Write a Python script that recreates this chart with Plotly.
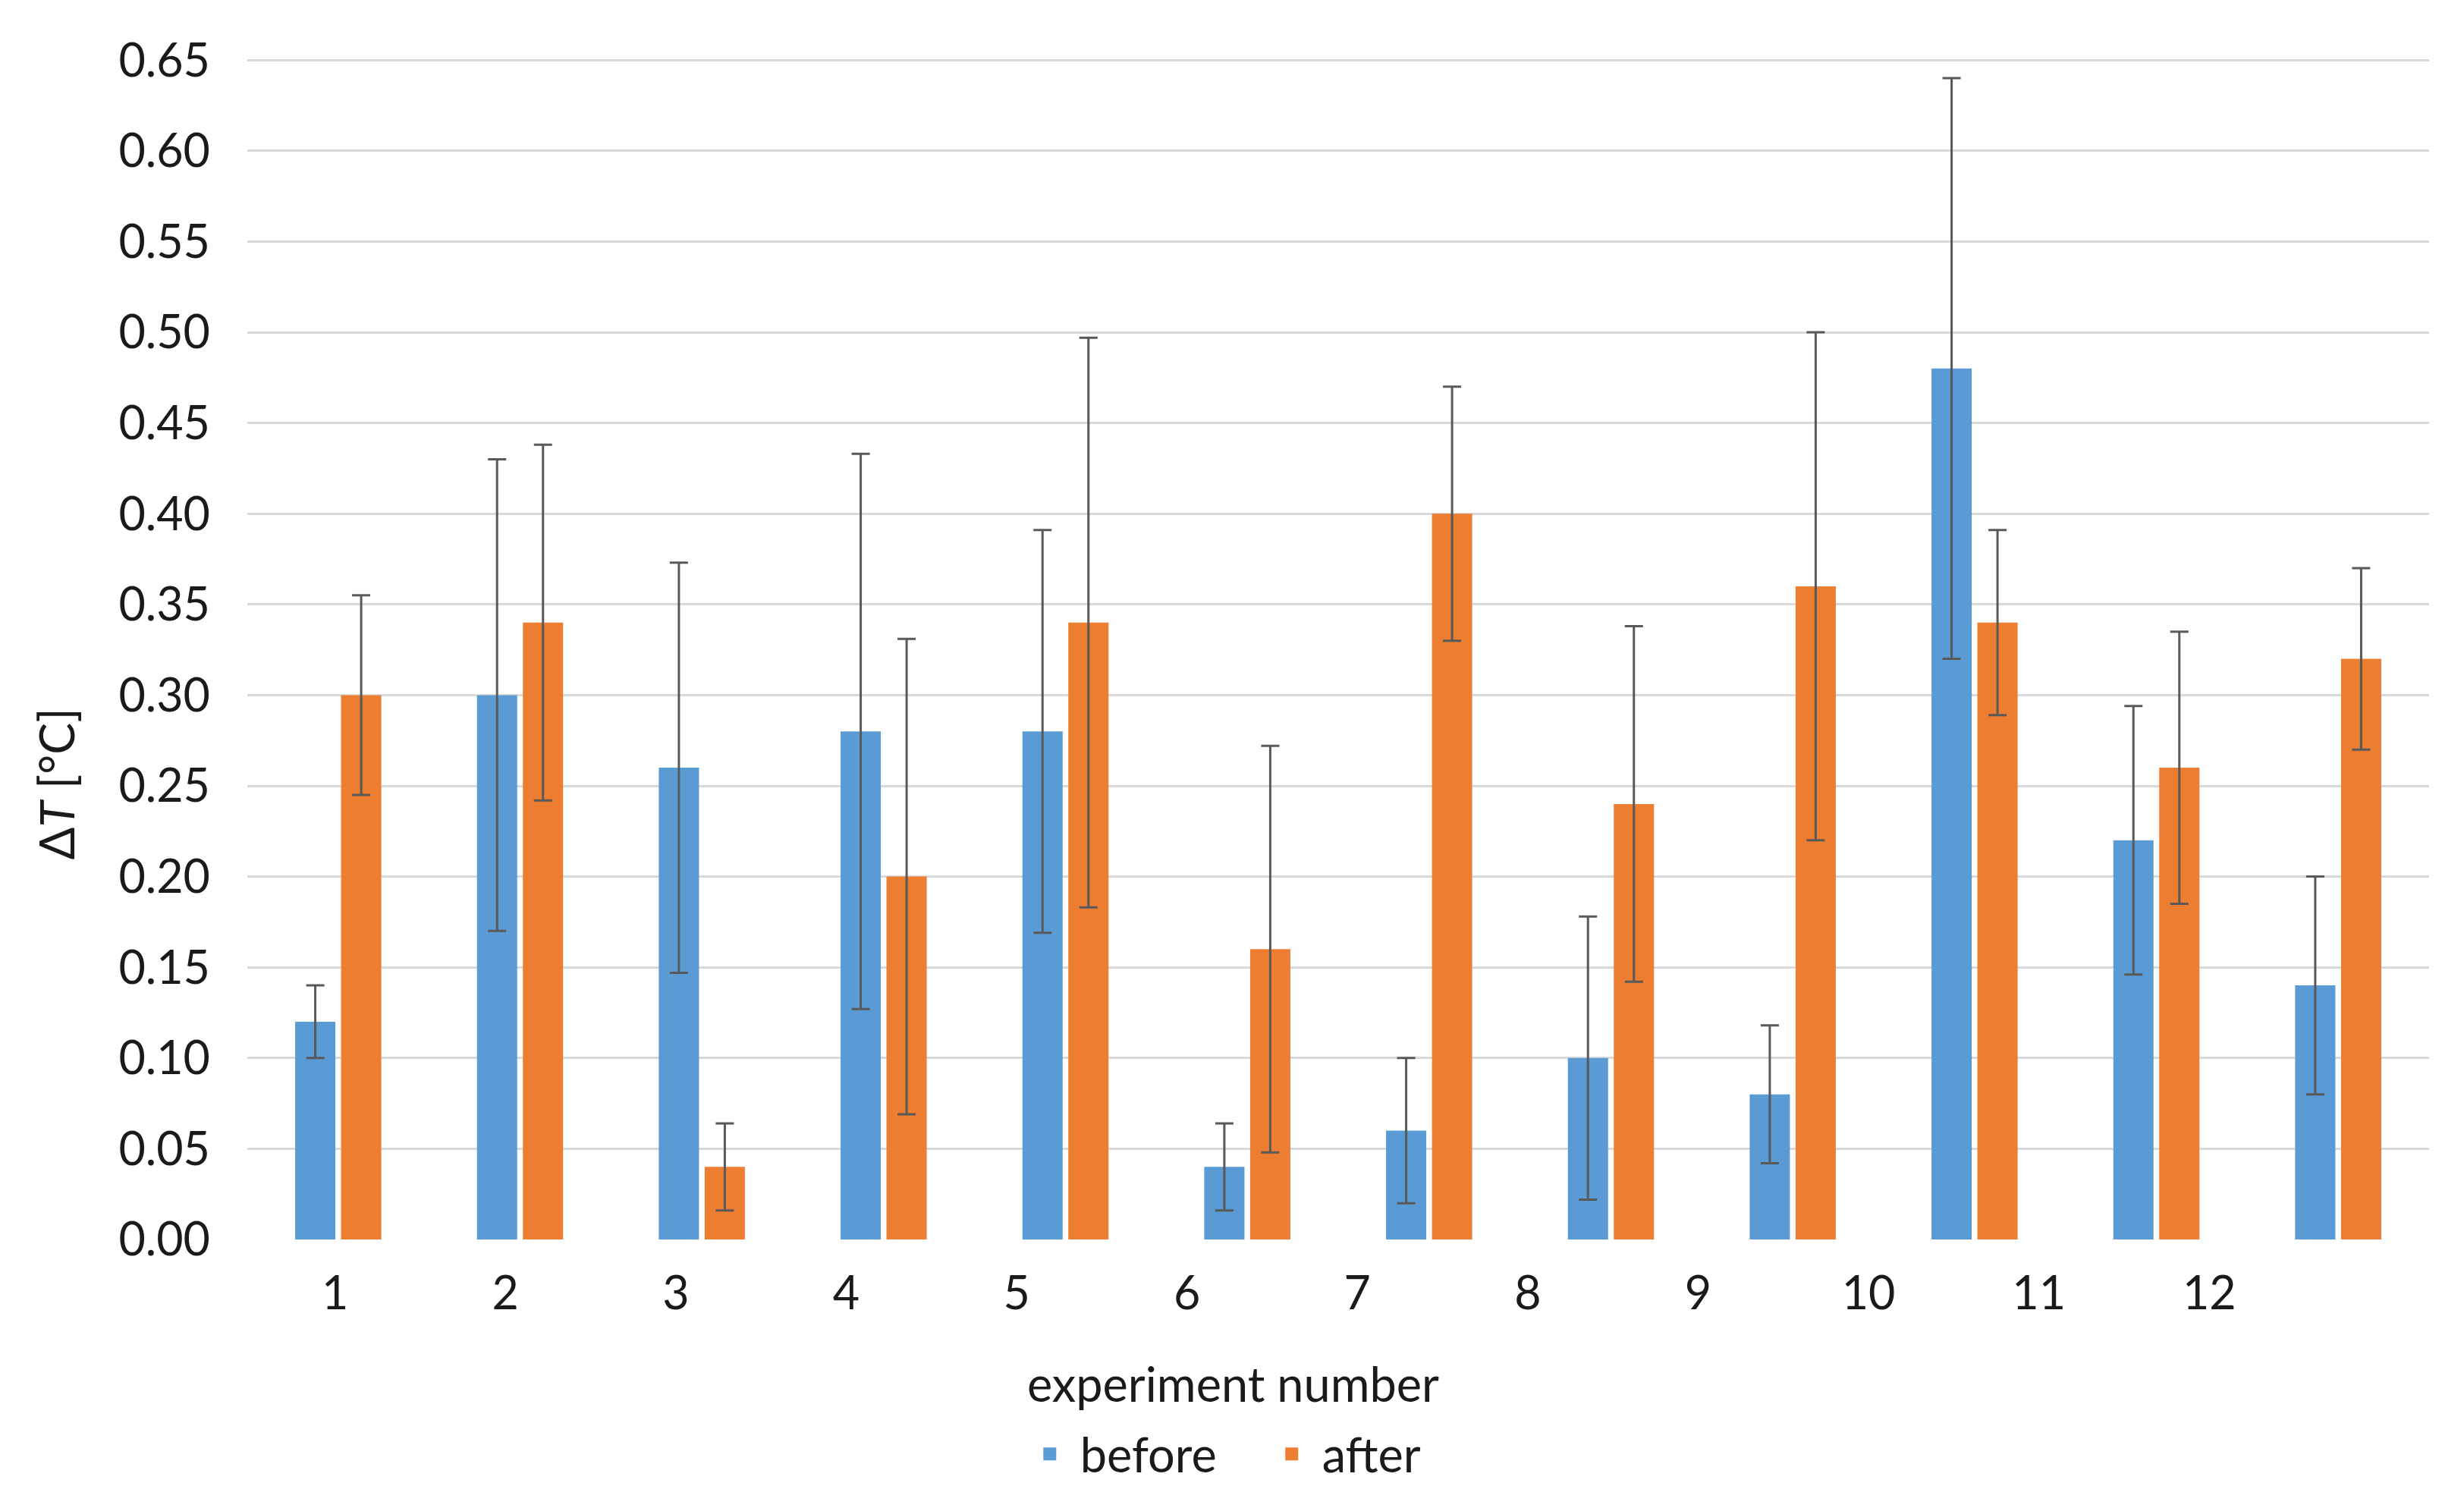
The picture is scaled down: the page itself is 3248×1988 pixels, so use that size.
import plotly.graph_objects as go

experiments = list(range(1, 13))
tick_labels = [str(k) for k in experiments]
before = [0.12, 0.30, 0.26, 0.28, 0.28, 0.04, 0.06, 0.10, 0.08, 0.48, 0.22, 0.14]
before_err = [0.020, 0.130, 0.113, 0.153, 0.111, 0.024, 0.040, 0.078, 0.038, 0.160, 0.074, 0.060]
after = [0.30, 0.34, 0.04, 0.20, 0.34, 0.16, 0.40, 0.24, 0.36, 0.34, 0.26, 0.32]
after_err = [0.055, 0.098, 0.024, 0.131, 0.157, 0.112, 0.070, 0.098, 0.140, 0.051, 0.075, 0.050]
y_ticks = [round(0.05 * i, 2) for i in range(14)]

BLUE = "#5B9BD5"
ORANGE = "#ED7D31"
ERR = "#595959"
FONT = "Lato"
TXT = "#1a1a1a"

# page has an 8px body margin, so the figure is drawn 16px smaller
W, H = 3232, 1972
L, R, T, B = 318, 38, 70, 346

fig = go.Figure()
err_style = dict(type="data", visible=True, color=ERR, thickness=3, width=12)

fig.add_trace(go.Bar(x=experiments, y=before, name="before", marker=dict(color=BLUE, line=dict(width=0)),
                     error_y=dict(array=before_err, **err_style), offsetgroup="b", showlegend=False))
fig.add_trace(go.Bar(x=experiments, y=after, name="after", marker=dict(color=ORANGE, line=dict(width=0)),
                     error_y=dict(array=after_err, **err_style), offsetgroup="a", showlegend=False))
# legend entries
fig.add_trace(go.Bar(x=[None], y=[None], name="before", offsetgroup="b",
                     marker=dict(color=BLUE, line=dict(color=BLUE, width=5))))
fig.add_trace(go.Bar(x=[None], y=[None], name="after", offsetgroup="a",
                     marker=dict(color=ORANGE, line=dict(color=ORANGE, width=5))))
# invisible trace to carry the tick-label axis
fig.add_trace(go.Scatter(x=[None], y=[None], xaxis="x2", showlegend=False, hoverinfo="skip"))

fig.update_layout(
    width=W, height=H,
    margin=dict(l=L, r=R, t=T, b=B, autoexpand=False),
    paper_bgcolor="white", plot_bgcolor="white",
    barmode="group", bargap=0.495, bargroupgap=0.124,
    font=dict(family=FONT, size=60, color=TXT),
    xaxis=dict(range=[0.5, 12.5], showticklabels=False, ticks="", showgrid=False,
               zeroline=False, showline=False),
    xaxis2=dict(overlaying="x", anchor="y", side="bottom", range=[0.485, 13.29],
                tickmode="array", tickvals=experiments, ticktext=tick_labels,
                showgrid=False, zeroline=False, showline=False, ticks="",
                ticklabelstandoff=30, tickfont=dict(family=FONT, size=61, color=TXT)),
    yaxis=dict(range=[0, 0.6505], tickmode="array", tickvals=y_ticks, tickformat=".2f",
               showgrid=True, gridcolor="#D9D9D9", gridwidth=3, zeroline=False,
               showline=False, ticks="", ticklabelstandoff=48,
               tickfont=dict(family=FONT, size=61, color=TXT)),
    legend=dict(orientation="h", xref="container", yref="container", x=0.512, y=0.032,
                xanchor="center", yanchor="middle", font=dict(family=FONT, size=63, color=TXT),
                itemwidth=70, entrywidth=234, entrywidthmode="pixels", traceorder="normal"),
    annotations=[
        dict(text="experiment number", xref="paper", yref="paper", x=0.4517, y=-0.122,
             xanchor="center", yanchor="middle", showarrow=False,
             font=dict(family=FONT, size=63, color=TXT)),
        dict(text="Δ<i>T</i> [°C]", xref="paper", yref="paper", x=-0.088, y=0.386,
             xanchor="center", yanchor="middle", showarrow=False, textangle=-90,
             font=dict(family=FONT, size=63, color=TXT)),
    ],
)

fig.write_html("out.html")
